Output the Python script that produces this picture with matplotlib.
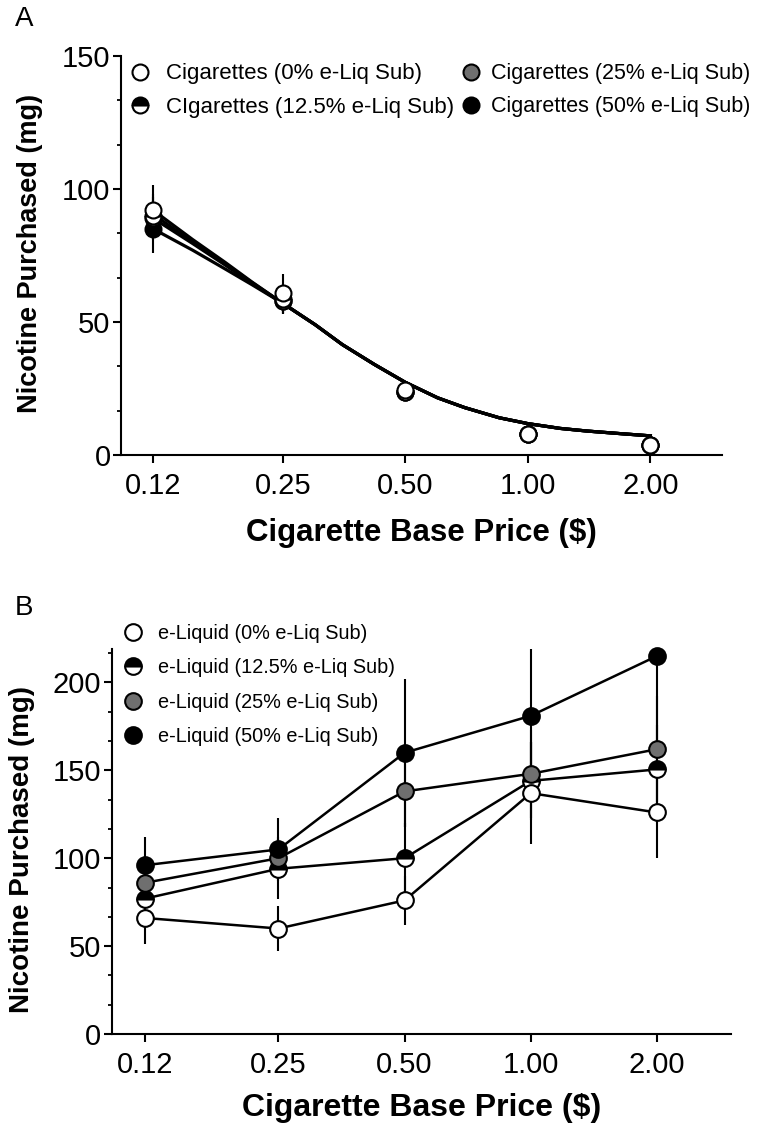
import matplotlib
matplotlib.use('Agg')
import matplotlib.pyplot as plt
import numpy as np
from matplotlib.ticker import FixedLocator, NullLocator

plt.rcParams['font.family'] = ['Liberation Sans', 'DejaVu Sans']

# x axis: cigarette base price ($)
prices = [0.12, 0.25, 0.50, 1.00, 2.00]
price_labels = ['0.12', '0.25', '0.50', '1.00', '2.00']

# panel A - cigarettes, nicotine purchased (mg)
cig_labels = ['Cigarettes (0% e-Liq Sub)', 'CIgarettes (12.5% e-Liq Sub)',
              'Cigarettes (25% e-Liq Sub)', 'Cigarettes (50% e-Liq Sub)']
cig_0 = [92, 61, 24.5, 8, 3.8]
cig_12 = [90, 58.5, 23.5, 8, 3.8]
cig_25 = [89, 58, 23.5, 8, 3.8]
cig_50 = [85, 58, 23.5, 8, 3.8]
cig_err_0 = [9.5, 7, 2, 1, 0.8]
cig_err_12 = [8, 5, 1.5, 1, 0.8]
cig_err_25 = [8, 5, 1.5, 1, 0.8]
cig_err_50 = [9, 5, 1.5, 1, 0.8]

# fitted demand curves
curve_x = [0.12, 0.15, 0.18, 0.21, 0.25, 0.30, 0.35, 0.42, 0.50,
           0.60, 0.70, 0.85, 1.00, 1.20, 1.40, 1.70, 2.00]
curve_tail = [57, 49, 41.5, 34, 27.3, 21.5, 17.8, 14, 11.8, 10, 9, 8, 7.2]
curve_0 = [92, 81, 72.5, 65] + curve_tail
curve_12 = [90.5, 80, 72, 64.8] + curve_tail
curve_25 = [89, 79.5, 71.5, 64.5] + curve_tail
curve_50 = [85, 77, 70, 64] + curve_tail

# panel B - e-liquid, nicotine purchased (mg)
liq_labels = ['e-Liquid (0% e-Liq Sub)', 'e-Liquid (12.5% e-Liq Sub)',
              'e-Liquid (25% e-Liq Sub)', 'e-Liquid (50% e-Liq Sub)']
liq_0 = [66, 60, 76, 137, 126]
liq_12 = [77, 94, 100, 144, 150.5]
liq_25 = [86, 100, 138, 148, 162]
liq_50 = [96, 105, 160, 181, 215]
liq_err_0 = [15, 13, 14, 29, 26]
liq_err_12 = [10, 17, 20, 22, 25]
liq_err_25 = [10, 12, 20, 25, 30]
liq_err_50 = [16, 18, 42, 40, 50]

W, H = 764, 1126
fig = plt.figure(figsize=(W / 100, H / 100), dpi=100)

# marker styles: open, half (top black), grey, black
styles = [dict(mfc='white'),
          dict(mfc='black', mfcalt='white', fillstyle='top'),
          dict(mfc='#6f6f6f'),
          dict(mfc='black')]


def style_axes(ax, ymax, yticks, tick_size):
    ax.set_xscale('log')
    ax.set_xlim(0.1, 3.0)
    ax.set_xticks(prices)
    ax.set_xticklabels(price_labels)
    ax.xaxis.set_minor_locator(NullLocator())
    ax.set_ylim(0, ymax)
    ax.set_yticks(yticks)
    ax.yaxis.set_minor_locator(FixedLocator(np.arange(0, ymax, 50 / 3)))
    for s in ['top', 'right']:
        ax.spines[s].set_visible(False)
    for s in ['left', 'bottom']:
        ax.spines[s].set_linewidth(1.5)
    ax.tick_params(axis='both', which='major', length=5.5, width=1.5,
                   labelsize=tick_size, direction='out')
    ax.tick_params(axis='x', which='major', pad=6.5)
    ax.tick_params(axis='y', which='major', pad=2)
    ax.tick_params(axis='y', which='minor', length=3, width=1.3)


# ---------- panel A ----------
axA = fig.add_axes([121 / W, 1 - 455 / H, 601 / W, 399 / H])
style_axes(axA, 150, [0, 50, 100, 150], 21)

for cy in [curve_50, curve_25, curve_12, curve_0]:
    axA.plot(curve_x, cy, color='black', lw=2.3, zorder=2)

cig_vals = [cig_0, cig_12, cig_25, cig_50]
cig_errs = [cig_err_0, cig_err_12, cig_err_25, cig_err_50]
handlesA = [None] * 4
for i in [3, 2, 1, 0]:
    axA.errorbar(prices, cig_vals[i], yerr=cig_errs[i], fmt='none',
                 ecolor='black', elinewidth=1.5, capsize=0, zorder=3)
    st = styles[i]
    ln, = axA.plot(prices, cig_vals[i], ls='none', marker='o', ms=11.5,
                   mec='black', mew=1.5, markerfacecolor=st['mfc'],
                   markerfacecoloralt=st.get('mfcalt', 'none'),
                   fillstyle=st.get('fillstyle', 'full'), zorder=4 + (3 - i),
                   clip_on=False)
    handlesA[i] = ln

axA.set_ylabel('Nicotine Purchased (mg)', fontsize=19.5, fontweight='bold')
axA.yaxis.set_label_coords(-0.130, 0.505)
axA.set_xlabel('Cigarette Base Price ($)', fontsize=22.5, fontweight='bold')
axA.xaxis.set_label_coords(0.5, -0.158)

leg_kw = dict(loc='upper left', bbox_transform=fig.transFigure,
              frameon=False, handlelength=1.0, labelspacing=0.55,
              borderpad=0, borderaxespad=0)
legA1 = axA.legend(handlesA[:2], cig_labels[:2], fontsize=16,
                   handletextpad=0.67,
                   bbox_to_anchor=(128.9 / W, 1 - 63.5 / H), **leg_kw)
axA.add_artist(legA1)
axA.legend(handlesA[2:], cig_labels[2:], fontsize=15.5, handletextpad=0.42,
           bbox_to_anchor=(460 / W, 1 - 63.5 / H), **leg_kw)

# ---------- panel B ----------
axB = fig.add_axes([111.7 / W, 1 - 1034 / H, 619 / W, 385 / H])
style_axes(axB, 219, [0, 50, 100, 150, 200], 21)

liq_vals = [liq_0, liq_12, liq_25, liq_50]
liq_errs = [liq_err_0, liq_err_12, liq_err_25, liq_err_50]
handlesB = [None] * 4
for i in [3, 2, 1, 0]:
    axB.errorbar(prices, liq_vals[i], yerr=liq_errs[i], fmt='none',
                 ecolor='black', elinewidth=1.5, capsize=0, zorder=2)
    axB.plot(prices, liq_vals[i], color='black', lw=1.8, zorder=3)
for i in [1, 2, 3, 0]:
    st = styles[i]
    ln, = axB.plot(prices, liq_vals[i], ls='none', marker='o', ms=12,
                   mec='black', mew=1.5, markerfacecolor=st['mfc'],
                   markerfacecoloralt=st.get('mfcalt', 'none'),
                   fillstyle=st.get('fillstyle', 'full'), zorder=5,
                   clip_on=False)
    handlesB[i] = ln

axB.set_ylabel('Nicotine Purchased (mg)', fontsize=20, fontweight='bold')
axB.yaxis.set_label_coords(-0.124, 0.478)
axB.set_xlabel('Cigarette Base Price ($)', fontsize=23, fontweight='bold')
axB.xaxis.set_label_coords(0.5, -0.153)

axB.legend(handlesB, liq_labels, loc='upper left',
           bbox_to_anchor=(123 / W, 1 - 624 / H),
           bbox_transform=fig.transFigure, frameon=False,
           fontsize=14.3, handlelength=1.0, handletextpad=0.74,
           labelspacing=0.77, borderpad=0, borderaxespad=0)

# panel letters
fig.text(15 / W, 1 - 6.5 / H, 'A', fontsize=20, va='top', ha='left')
fig.text(15 / W, 1 - 595 / H, 'B', fontsize=20, va='top', ha='left')

fig.savefig('out.png', dpi=100)
